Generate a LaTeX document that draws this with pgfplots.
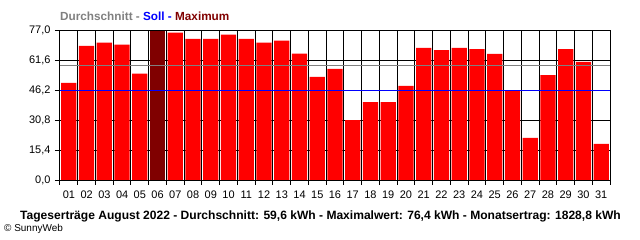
\documentclass[border=0pt]{standalone}
\usepackage{pgfplots}
\pgfplotsset{compat=1.18}
\usepackage{fontspec}
\setmainfont{Liberation Sans}
\definecolor{darkred}{HTML}{800000}
\definecolor{avggray}{HTML}{808080}
\begin{document}
\begin{tikzpicture}
\path[use as bounding box] (-60bp,-60bp) rectangle (580bp,180bp);
\begin{axis}[
  at={(0,0)}, anchor=south west,
  scale only axis, width=550bp, height=150bp,
  xmin=0.5, xmax=31.5, ymin=0, ymax=77,
  ybar, bar width=0.86, bar shift=0pt,
  axis line style={black, line width=1bp},
  xtick={1,...,31},
  xticklabels={01,02,03,04,05,06,07,08,09,10,11,12,13,14,15,16,17,18,19,20,21,22,23,24,25,26,27,28,29,30,31},
  major x tick style={draw=none},
  minor xtick={0.5,1.5,...,31.5},
  xminorgrids,
  minor x tick style={black, line width=1bp},
  minor tick length=5bp,
  ytick={0,15.4,30.8,46.2,61.6,77},
  ymajorgrids,
  y tick style={black, line width=1bp},
  major tick length=5bp,
  tick align=outside,
  tick pos=left,
  grid style={black, line width=1bp},
  minor grid style={black, line width=1bp},
  /pgf/number format/.cd, fixed, fixed zerofill, precision=1, use comma, assume math mode=true,
  /pgfplots/.cd,
  tick label style={font=\fontsize{11}{12}\selectfont},
  xticklabel style={yshift=-2bp},
  yticklabel style={xshift=-1bp},
]
\addplot[fill=red, draw=none] coordinates {
(1,49.9) (2,68.9) (3,70.5) (4,69.5) (5,54.6) (7,75.6) (8,72.5) (9,72.5) (10,74.6)
(11,72.5) (12,70.5) (13,71.5) (14,64.9) (15,53.0) (16,57.0) (17,30.8) (18,40.0)
(19,40.0) (20,48.3) (21,67.8) (22,66.7) (23,67.8) (24,67.2) (25,64.7) (26,46.2)
(27,21.6) (28,53.9) (29,67.2) (30,60.6) (31,18.5)};
\addplot[fill=darkred, draw=none] coordinates {(6,76.4)};
\addplot[sharp plot, avggray, line width=1bp] coordinates {(0.5,59.0) (31.5,59.0)};
\addplot[sharp plot, blue, line width=1bp] coordinates {(0.5,46.2) (31.5,46.2)};
\end{axis}
\node[anchor=west, font=\fontsize{11.8}{13}\selectfont\bfseries, inner sep=0pt] at (0bp,164bp)
  {\textcolor{avggray}{Durchschnitt - }\textcolor{blue}{Soll - }\textcolor{darkred}{Maximum}};
\node[anchor=center, font=\fontsize{12.1}{14}\selectfont\bfseries, inner sep=0pt] at (260.5bp,-36bp)
  {Tageserträge August 2022 - Durchschnitt: 59,6 kWh - Maximalwert: 76,4 kWh - Monatsertrag: 1828,8 kWh};
\node[anchor=west, font=\fontsize{10}{12}\selectfont, inner sep=0pt] at (-56bp,-49bp)
  {© SunnyWeb};
\end{tikzpicture}
\end{document}
